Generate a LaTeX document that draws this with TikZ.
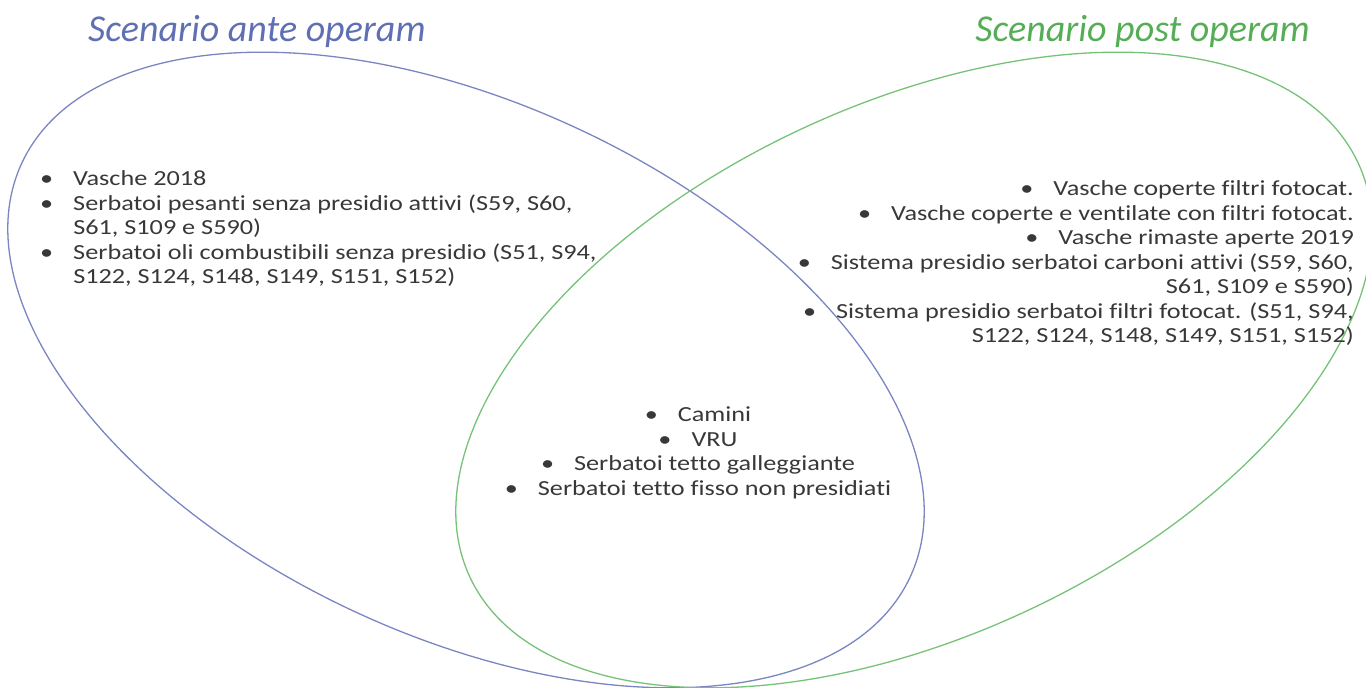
\documentclass[tikz,border=0pt]{standalone}
\usepackage{fontspec}
\setmainfont{Carlito}[Ligatures=NoCommon]
\newfontfamily\largo{Carlito}[FakeStretch=1.22, Ligatures=NoCommon]
\usepackage{tikz}

\definecolor{bluante}{HTML}{7A85C2}
\definecolor{verdepost}{HTML}{76C278}
\definecolor{titoloblu}{HTML}{5F6FB3}
\definecolor{titoloverde}{HTML}{55AD55}
\definecolor{testo}{HTML}{383838}

\begin{document}
\begin{tikzpicture}[x=1pt, y=1pt,
  bordo/.style={line width=1.3pt},
  titolo/.style={font=\fontsize{38}{42}\selectfont\itshape, inner sep=0pt},
  elenco/.style={font=\largo\fontsize{21.5}{24.5}\selectfont, text=testo, inner sep=0pt}]

\useasboundingbox (0,0) rectangle (1366,688);

% Insieme ante operam (blu)
\draw[bluante, bordo, rotate around={-25:(466,318)}] (466,318) ellipse [x radius=490, y radius=266];

% Insieme post operam (verde)
\draw[verdepost, bordo, rotate around={25:(914,318)}] (914,318) ellipse [x radius=490, y radius=266];

% Titoli
\node[titolo, text=titoloblu, anchor=base west] (ante) at (88,646) {Scenario ante operam};
\node[titolo, text=titoloverde, anchor=base east] (post) at (1310,646) {Scenario post operam};

% Solo ante operam
\node[elenco, anchor=base west] (soloante) at (40,502) {%
  \begin{tabular}[t]{@{}l@{\hspace{20pt}}l@{}}
  \textbullet & Vasche 2018\\
  \textbullet & Serbatoi pesanti senza presidio attivi (S59, S60,\\
  & S61, S109 e S590)\\
  \textbullet & Serbatoi oli combustibili senza presidio (S51, S94,\\
  & S122, S124, S148, S149, S151, S152)
  \end{tabular}};

% Solo post operam
\node[elenco, anchor=base east] (solopost) at (1354,492) {%
  \begin{tabular}[t]{@{}r@{}}
  \textbullet\hspace{20pt}Vasche coperte filtri fotocat.\\
  \textbullet\hspace{20pt}Vasche coperte e ventilate con filtri fotocat.\\
  \textbullet\hspace{20pt}Vasche rimaste aperte 2019\\
  \textbullet\hspace{20pt}Sistema presidio serbatoi carboni attivi (S59, S60,\\
  S61, S109 e S590)\\
  \textbullet\hspace{20pt}Sistema presidio serbatoi filtri fotocat. (S51, S94,\\
  S122, S124, S148, S149, S151, S152)
  \end{tabular}};

% Intersezione
\node[elenco, anchor=base] (comuni) at (698,266) {%
  \begin{tabular}[t]{@{}c@{}}
  \textbullet\hspace{20pt}Camini\\
  \textbullet\hspace{20pt}VRU\\
  \textbullet\hspace{20pt}Serbatoi tetto galleggiante\\
  \textbullet\hspace{20pt}Serbatoi tetto fisso non presidiati
  \end{tabular}};

\end{tikzpicture}
\end{document}
